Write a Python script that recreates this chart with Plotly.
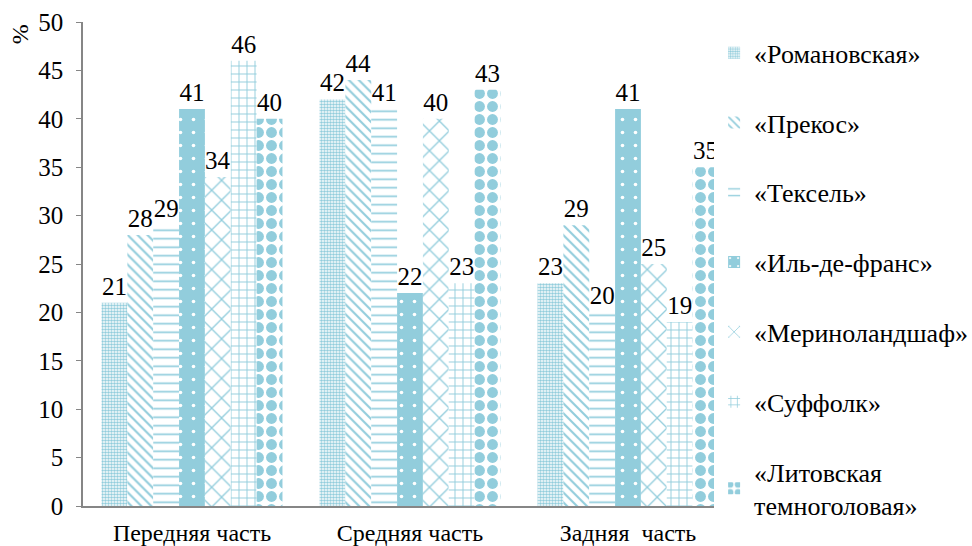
import plotly.graph_objects as go

# Body regions and breeds
categories = ["Передняя часть", "Средняя часть", "Задняя  часть"]
breeds = ["«Романовская»", "«Прекос»", "«Тексель»", "«Иль-де-франс»",
          "«Мериноландшаф»", "«Суффолк»", "«Литовская<br>темноголовая»"]

romanovskaya = [21, 42, 23]
prekos = [28, 44, 29]
teksel = [29, 41, 20]
il_de_frans = [41, 22, 41]
merinolandshaf = [34, 40, 25]
suffolk = [46, 23, 19]
litovskaya = [40, 43, 35]

series = [romanovskaya, prekos, teksel, il_de_frans, merinolandshaf, suffolk, litovskaya]

BLUE = "#92CDDC"
FONT = "Liberation Serif"

# fill pattern per breed: (shape, size, solidity, fg, bg)
patterns = [
    (".", 3, 0.55, BLUE, "white"),
    ("\\", 7, 0.3, BLUE, "white"),
    ("-", 8.5, 0.2, BLUE, "white"),
    (".", 13, 0.06, "white", BLUE),
    ("x", 14, 0.18, BLUE, "white"),
    ("+", 8, 0.22, BLUE, "white"),
    (".", 13, 0.55, BLUE, "white"),
]

fig = go.Figure()
for i, (name, vals, pat) in enumerate(zip(breeds, series, patterns)):
    shape, size, sol, fg, bg = pat
    fig.add_trace(go.Bar(
        x=categories, y=vals, name=name,
        legendgroup=f"g{i}",
        text=[str(v) for v in vals], textposition="outside",
        textfont=dict(family=FONT, size=25, color="black"),
        cliponaxis=False,
        marker=dict(color=bg, line=dict(width=0),
                    pattern=dict(shape=shape, size=size, solidity=sol,
                                 fgcolor=fg, bgcolor=bg, fgopacity=1,
                                 fillmode="overlay")),
    ))

fig.update_layout(
    width=972, height=546,
    margin=dict(l=83, r=235, t=22, b=40, autoexpand=False),
    paper_bgcolor="white", plot_bgcolor="white",
    barmode="group", bargap=0.17, bargroupgap=0,
    font=dict(family=FONT, size=24, color="black"),
    legend=dict(x=0.965, xanchor="left", y=0.985, yanchor="top",
                font=dict(family=FONT, size=26, color="black"),
                tracegroupgap=33, itemwidth=30, traceorder="grouped",
                maxheight=600),
    xaxis=dict(showline=True, linecolor="#868686", linewidth=2,
               ticks="", tickfont=dict(family=FONT, size=24, color="black"),
               ticklabelstandoff=4,
               showgrid=False, automargin=False),
    yaxis=dict(range=[0, 50], dtick=5, showline=True, linecolor="#868686",
               linewidth=1.5, ticks="outside", ticklen=5, tickcolor="#868686",
               tickfont=dict(family=FONT, size=25, color="black"),
               ticklabelstandoff=8, automargin=False,
               showgrid=False, zeroline=False),
    annotations=[dict(text="%", xref="paper", yref="paper", x=-0.096, y=0.975,
                      xanchor="center", yanchor="middle", textangle=-90,
                      showarrow=False,
                      font=dict(family=FONT, size=24, color="black"))],
)

fig.write_html("out.html")
